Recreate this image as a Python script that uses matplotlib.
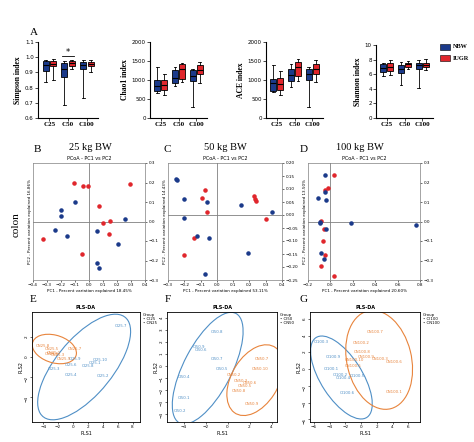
import matplotlib
matplotlib.use("Agg")
import matplotlib.pyplot as plt
from matplotlib.patches import Ellipse

W, H = 474, 442
fig = plt.figure(figsize=(W/100, H/100), dpi=100)
NAVY, RED = "#1b3a8a", "#e0262c"
PB, PO = "#4f8fc6", "#e8843c"

def ax_px(x0, y0, x1, y1):
    return fig.add_axes([x0/W, 1-y1/H, (x1-x0)/W, (y1-y0)/H])

# ---- Panel A data: (min, q1, median, q3, max) per group, order C25,C50,C100
groups = ["C25", "C50", "C100"]
simpson_nbw = [(.84,.91,.95,.975,.98), (.685,.87,.92,.96,.975), (.73,.925,.95,.97,.98)]
simpson_iugr = [(.85,.94,.955,.975,.985), (.92,.945,.96,.975,.98), (.905,.94,.955,.97,.98)]
chao_nbw = [(650,700,850,1000,1330), (830,920,1050,1250,1330), (290,970,1100,1270,1300)]
chao_iugr = [(600,740,880,1000,1150), (950,1020,1300,1420,1450), (920,1150,1270,1400,1480)]
ace_nbw = [(680,700,920,1020,1390), (820,980,1120,1300,1420), (290,1000,1150,1300,1350)]
ace_iugr = [(600,730,900,1040,1230), (980,1100,1350,1480,1550), (960,1170,1300,1420,1520)]
shannon_nbw = [(5.8,6.3,6.9,7.4,7.6), (4.5,6.1,6.7,7.3,7.7), (4.1,6.7,7.2,7.6,7.9)]
shannon_iugr = [(5.9,6.5,7.0,7.5,7.9), (6.7,7.0,7.4,7.6,7.8), (6.6,7.0,7.3,7.6,8.1)]

def boxpanel(rect, nbw, iugr, ylabel, ylim, ticks, ticklabels):
    ax = ax_px(*rect)
    for vals, off, col in [(nbw, -0.2, NAVY), (iugr, 0.2, RED)]:
        stats = [dict(whislo=v[0], q1=v[1], med=v[2], q3=v[3], whishi=v[4], fliers=[]) for v in vals]
        ax.bxp(stats, positions=[i+off for i in range(3)], widths=0.32, patch_artist=True,
               boxprops=dict(facecolor=col, edgecolor="black", lw=0.6),
               medianprops=dict(color="black", lw=0.8), whiskerprops=dict(lw=0.6),
               capprops=dict(lw=0.6), showfliers=False)
    ax.set_xlim(-0.6, 2.6); ax.set_ylim(*ylim)
    ax.set_xticks(range(3)); ax.set_xticklabels(groups, fontsize=5, family="Liberation Serif", fontweight="bold")
    ax.set_yticks(ticks); ax.set_yticklabels(ticklabels, fontsize=4)
    ax.set_ylabel(ylabel, fontsize=5.5, family="Liberation Serif", fontweight="bold", labelpad=2)
    for s in ["top", "right"]: ax.spines[s].set_visible(False)
    ax.tick_params(length=2, width=0.5, pad=1)
    return ax

a1 = boxpanel((38, 42, 98, 118), simpson_nbw, simpson_iugr, "Simpson index", (0.6, 1.1),
              [0.6,0.7,0.8,0.9,1.0,1.1], ["0.6","0.7","0.8","0.9","1.0","1.1"])
a1.plot([0.7, 1.3], [1.01, 1.01], color="black", lw=0.6)
a1.text(1.0, 1.012, "*", ha="center", fontsize=6)
boxpanel((150, 42, 207, 118), chao_nbw, chao_iugr, "Chao1 index", (0, 2000),
         [0,500,1000,1500,2000], ["0","500","1000","1500","2000"])
boxpanel((266, 42, 323, 118), ace_nbw, ace_iugr, "ACE index", (0, 2000),
         [0,500,1000,1500,2000], ["0","500","1000","1500","2000"])
boxpanel((376, 45, 433, 118), shannon_nbw, shannon_iugr, "Shannon index", (0, 10),
         [0,2,4,6,8,10], ["0","2","4","6","8","10"])
fig.text(30/W, 1-35/H, "A", fontsize=8, family="Liberation Serif")
for yy, col, lab in [(47, NAVY, "NBW"), (58, RED, "IUGR")]:
    fig.patches.append(plt.Rectangle((440/W, 1-(yy+3)/H), 10/W, 6/H, facecolor=col, edgecolor="black", lw=0.4, transform=fig.transFigure))
    fig.text(453/W, 1-yy/H, lab, fontsize=4.5, family="Liberation Serif", fontweight="bold", va="center")

# ---- PCoA data
b_red_x = [-0.11,-0.04,-0.01,0.29,0.07,0.15,0.10,0.14,-0.33,-0.05]
b_red_y = [0.20,0.18,0.18,0.19,0.08,0.005,-0.01,-0.065,-0.09,-0.165]
b_blue_x = [-0.10,-0.20,-0.20,0.26,-0.24,-0.16,0.06,0.21,0.06,0.07]
b_blue_y = [0.10,0.06,0.03,0.015,-0.045,-0.075,-0.05,-0.115,-0.215,-0.24]
c_red_x = [-0.07,-0.09,-0.06,0.23,0.235,0.24,0.30,-0.14,-0.20]
c_red_y = [0.095,0.065,0.01,0.075,0.06,0.055,-0.015,-0.09,-0.155]
c_blue_x = [-0.25,-0.245,-0.20,-0.06,0.15,0.34,-0.20,-0.12,-0.05,0.19,-0.07]
c_blue_y = [0.14,0.135,0.06,0.05,0.04,0.01,-0.01,-0.08,-0.09,-0.145,-0.225]
d_red_x = [0.03,-0.05,-0.02,-0.08,-0.06,-0.07,-0.05,-0.08,0.03]
d_red_y = [0.24,0.16,0.17,0.005,-0.04,-0.10,-0.17,-0.23,-0.28]
d_blue_x = [-0.05,-0.05,-0.11,-0.04,-0.09,-0.09,-0.04,0.18,0.76,-0.08,-0.06]
d_blue_y = [0.24,0.15,0.12,0.11,0.0,-0.01,-0.04,-0.01,-0.02,-0.16,-0.19]

def pcoa(rect, rx, ry, bx, by, xlim, ylim, xt, yt, xl, yl):
    ax = ax_px(*rect)
    ax.axhline(0, color="gray", lw=0.6); ax.axvline(0, color="gray", lw=0.6)
    ax.scatter(rx, ry, s=5, color=RED, zorder=3)
    ax.scatter(bx, by, s=5, color=NAVY, zorder=3)
    ax.set_xlim(*xlim); ax.set_ylim(*ylim)
    ax.set_xticks(xt); ax.set_yticks(yt)
    ax.yaxis.tick_right()
    ax.tick_params(labelsize=3, length=1.5, width=0.4, pad=1)
    ax.set_xlabel(xl, fontsize=3, labelpad=1)
    ax.set_ylabel(yl, fontsize=3, labelpad=1)
    ax.set_title("PCoA - PC1 vs PC2", fontsize=3.5, pad=2)
    for s in ax.spines.values(): s.set_linewidth(0.5); s.set_color("gray")
    return ax

pcoa((33, 163, 145, 280), b_red_x, b_red_y, b_blue_x, b_blue_y, (-0.4, 0.4), (-0.3, 0.3),
     [-0.4,-0.3,-0.2,-0.1,0,0.1,0.2,0.3,0.4], [-0.3,-0.2,-0.1,0,0.1,0.2,0.3],
     "PC1 - Percent variation explained 18.45%", "PC2 - Percent variation explained 16.86%")
pcoa((168, 163, 282, 280), c_red_x, c_red_y, c_blue_x, c_blue_y, (-0.3, 0.4), (-0.25, 0.2),
     [-0.3,-0.2,-0.1,0,0.1,0.2,0.3,0.4], [-0.25,-0.2,-0.15,-0.1,-0.05,0,0.05,0.1,0.15,0.2],
     "PC1 - Percent variation explained 53.11%", "PC2 - Percent variation explained 14.43%")
pcoa((308, 163, 420, 280), d_red_x, d_red_y, d_blue_x, d_blue_y, (-0.2, 0.8), (-0.3, 0.3),
     [-0.2,0,0.2,0.4,0.6,0.8], [-0.3,-0.2,-0.1,0,0.1,0.2,0.3],
     "PC1 - Percent variation explained 20.60%", "PC2 - Percent variation explained 13.50%")
for x, t in [(34, "B"), (163, "C"), (300, "D")]:
    fig.text(x/W, 1-152/H, t, fontsize=8, family="Liberation Serif")
for x, t in [(90, "25 kg BW"), (225, "50 kg BW"), (360, "100 kg BW")]:
    fig.text(x/W, 1-150/H, t, fontsize=7.5, family="Liberation Serif", ha="center")
fig.text(12/W, 1-225/H, "colon", fontsize=8, family="Liberation Serif", rotation=90, va="center")

# ---- PLS-DA data
e_ci_lab = ["CI25.7","CI25.9","CI25.10","CI25.1","CI25.6","CI25.8","CI25.3","CI25.4","CI25.2"]
e_ci_x = [6.5,0.3,3.6,3.0,-0.3,2.0,-2.6,-0.2,4.0]
e_ci_y = [3.1,-0.2,-0.3,-0.6,-0.8,-0.9,-1.2,-1.8,-1.9]
e_cn_lab = ["CN25.8","CN25.5","CN25.1","CN25.3","CN25.6","CN25.7","CN25.9"]
e_cn_x = [-4.0,-2.9,-2.5,-2.0,-2.9,0.2,-1.2]
e_cn_y = [1.1,0.75,0.45,0.15,0.3,0.8,-0.25]
f_ci_lab = ["CI50.8","CI50.9","CI50.6","CI50.7","CI50.5","CI50.4","CI50.1","CI50.2"]
f_ci_x = [-1.0,-2.6,-2.4,-1.0,-0.5,-4.0,-4.0,-4.3]
f_ci_y = [2.8,1.6,1.3,0.6,-0.3,-0.9,-2.7,-3.8]
f_cn_lab = ["CN50.7","CN50.10","CN50.2","CN50.3","CN50.5","CN50.8","CN50.6","CN50.9"]
f_cn_x = [3.1,3.0,0.6,1.2,1.6,1.0,2.0,2.2]
f_cn_y = [0.6,-0.3,-0.8,-1.3,-1.7,-2.1,-1.4,-3.2]
g_ci_lab = ["CI100.3","CI100.9","CI100.1","CI100.2","CI100.4","CI100.5","CI100.6"]
g_ci_x = [-5.0,-3.5,-3.8,-2.6,-2.2,-0.5,-1.8]
g_ci_y = [3.2,1.5,0.0,-0.7,-1.1,-0.8,-2.9]
g_cn_lab = ["CN100.7","CN100.2","CN100.8","CN100.9","CN100.10","CN100.3","CN100.6","CN100.5","CN100.1"]
g_cn_x = [1.8,0.0,0.2,0.6,-0.8,2.4,4.2,-1.0,4.2]
g_cn_y = [4.4,3.1,2.0,1.5,1.1,1.2,0.8,0.4,-2.7]

def plsda(rect, ci, cn, ell_b, ell_o, xlim, ylim, xt, yt, legend):
    ax = ax_px(*rect)
    for (lab, x, y), col in [(ci, PB), (cn, PO)]:
        ax.scatter(x, y, s=0)
        for l, xi, yi in zip(lab, x, y):
            ax.text(xi, yi, l, color=col, fontsize=2.8, ha="center", va="center")
    for (cx, cy, w, h, a), col in [(ell_b, PB), (ell_o, PO)]:
        ax.add_patch(Ellipse((cx, cy), w, h, angle=a, fill=False, edgecolor=col, lw=0.8))
    ax.set_xlim(*xlim); ax.set_ylim(*ylim)
    ax.set_xticks(xt); ax.set_yticks(yt)
    ax.tick_params(labelsize=3, length=1.5, width=0.4, pad=1)
    ax.tick_params(axis="y", labelrotation=90)
    ax.set_xlabel("PLS1", fontsize=3.5, labelpad=1); ax.set_ylabel("PLS2", fontsize=3.5, labelpad=1)
    ax.set_title("PLS-DA", fontsize=3.5, fontweight="bold", pad=2)
    for s in ax.spines.values(): s.set_linewidth(0.6)
    x1, y0 = rect[2], rect[1]
    fig.text((x1+3)/W, 1-(y0+4)/H, "Group", fontsize=2.8)
    for k, (lab, col) in enumerate(zip(legend, [PB, PO])):
        fig.text((x1+3)/W, 1-(y0+8+4*k)/H, "• " + lab, fontsize=2.8, color="black")
    return ax

plsda((32, 312, 140, 422), (e_ci_lab, e_ci_x, e_ci_y), (e_cn_lab, e_cn_x, e_cn_y),
      (1.5, -1.0, 15, 6.5, 38), (-2.5, 0.8, 6.0, 2.8, -10), (-5.5, 9), (-6.5, 4.5),
      [-4,-2,0,2,4,6,8], [-4,-2,0,2], ["CI25", "CN25"])
plsda((167, 312, 277, 422), (f_ci_lab, f_ci_x, f_ci_y), (f_cn_lab, f_cn_x, f_cn_y),
      (-1.8, -0.2, 4.3, 10.5, -30), (2.5, -1.2, 4.2, 6.6, -35), (-5.5, 4.5), (-4.7, 4.5),
      [-4,-2,0,2,4], [-4,-3,-2,-1,0,1,2,3,4], ["CI50", "CN50"])
plsda((310, 312, 420, 422), (g_ci_lab, g_ci_x, g_ci_y), (g_cn_lab, g_cn_x, g_cn_y),
      (-2.5, -1.0, 5.2, 11.5, 35), (2.3, 1.1, 8.2, 12.0, 15), (-6.5, 7.5), (-6.3, 6.8),
      [-6,-4,-2,0,2,4,6], [-6,-4,-2,0,2,4,6], ["CI100", "CN100"])
for x, t in [(30, "E"), (165, "F"), (300, "G")]:
    fig.text(x/W, 1-302/H, t, fontsize=8, family="Liberation Serif")

fig.savefig("out.png", dpi=100)
